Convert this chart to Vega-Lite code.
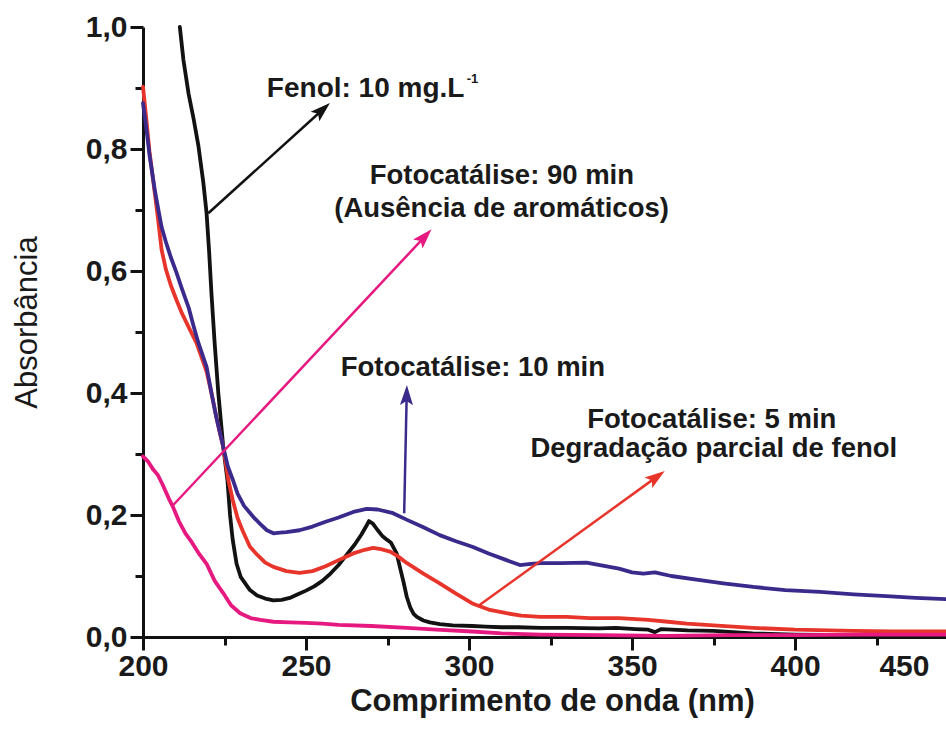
{
  "$schema": "https://vega.github.io/schema/vega-lite/v6.json",
  "width": 803,
  "height": 610,
  "autosize": {"type": "none"},
  "padding": {"left": 143, "top": 27, "right": 0, "bottom": 108},
  "background": "white",
  "config": {"view": {"stroke": null}, "font": "Liberation Sans"},
  "datasets": {
    "spectra": [
      {"series": "Fenol", "nm": 211.3, "A": 1.0},
      {"series": "Fenol", "nm": 212.4, "A": 0.946},
      {"series": "Fenol", "nm": 214, "A": 0.89},
      {"series": "Fenol", "nm": 215.5, "A": 0.85},
      {"series": "Fenol", "nm": 217, "A": 0.805},
      {"series": "Fenol", "nm": 218.5, "A": 0.745},
      {"series": "Fenol", "nm": 219.5, "A": 0.695},
      {"series": "Fenol", "nm": 220.3, "A": 0.63},
      {"series": "Fenol", "nm": 221, "A": 0.563},
      {"series": "Fenol", "nm": 222, "A": 0.48},
      {"series": "Fenol", "nm": 223.1, "A": 0.4},
      {"series": "Fenol", "nm": 224.6, "A": 0.312},
      {"series": "Fenol", "nm": 225.9, "A": 0.257},
      {"series": "Fenol", "nm": 226.7, "A": 0.2},
      {"series": "Fenol", "nm": 227.5, "A": 0.16},
      {"series": "Fenol", "nm": 228.7, "A": 0.12},
      {"series": "Fenol", "nm": 230, "A": 0.098},
      {"series": "Fenol", "nm": 232.8, "A": 0.077},
      {"series": "Fenol", "nm": 235, "A": 0.068},
      {"series": "Fenol", "nm": 237.5, "A": 0.063},
      {"series": "Fenol", "nm": 240, "A": 0.06},
      {"series": "Fenol", "nm": 242.5, "A": 0.061},
      {"series": "Fenol", "nm": 245, "A": 0.064},
      {"series": "Fenol", "nm": 247.5, "A": 0.07},
      {"series": "Fenol", "nm": 250, "A": 0.076},
      {"series": "Fenol", "nm": 252.5, "A": 0.083},
      {"series": "Fenol", "nm": 255, "A": 0.092},
      {"series": "Fenol", "nm": 257.5, "A": 0.104},
      {"series": "Fenol", "nm": 260, "A": 0.118},
      {"series": "Fenol", "nm": 262.5, "A": 0.135},
      {"series": "Fenol", "nm": 265, "A": 0.152},
      {"series": "Fenol", "nm": 267, "A": 0.168},
      {"series": "Fenol", "nm": 268.5, "A": 0.182},
      {"series": "Fenol", "nm": 269.3, "A": 0.19},
      {"series": "Fenol", "nm": 270.5, "A": 0.186},
      {"series": "Fenol", "nm": 272, "A": 0.175},
      {"series": "Fenol", "nm": 273.5, "A": 0.165},
      {"series": "Fenol", "nm": 274.7, "A": 0.16},
      {"series": "Fenol", "nm": 276, "A": 0.155},
      {"series": "Fenol", "nm": 277.8, "A": 0.137},
      {"series": "Fenol", "nm": 279, "A": 0.11},
      {"series": "Fenol", "nm": 280, "A": 0.088},
      {"series": "Fenol", "nm": 280.9, "A": 0.066},
      {"series": "Fenol", "nm": 282, "A": 0.048},
      {"series": "Fenol", "nm": 283, "A": 0.038},
      {"series": "Fenol", "nm": 284, "A": 0.033},
      {"series": "Fenol", "nm": 286, "A": 0.027},
      {"series": "Fenol", "nm": 288, "A": 0.024},
      {"series": "Fenol", "nm": 291, "A": 0.021},
      {"series": "Fenol", "nm": 295, "A": 0.019},
      {"series": "Fenol", "nm": 301, "A": 0.018},
      {"series": "Fenol", "nm": 305, "A": 0.017},
      {"series": "Fenol", "nm": 310, "A": 0.016},
      {"series": "Fenol", "nm": 315, "A": 0.016},
      {"series": "Fenol", "nm": 322, "A": 0.015},
      {"series": "Fenol", "nm": 330, "A": 0.015},
      {"series": "Fenol", "nm": 340, "A": 0.014},
      {"series": "Fenol", "nm": 345, "A": 0.015},
      {"series": "Fenol", "nm": 351, "A": 0.013},
      {"series": "Fenol", "nm": 355, "A": 0.012},
      {"series": "Fenol", "nm": 357, "A": 0.008},
      {"series": "Fenol", "nm": 359, "A": 0.013},
      {"series": "Fenol", "nm": 367, "A": 0.011},
      {"series": "Fenol", "nm": 375, "A": 0.01},
      {"series": "Fenol", "nm": 387, "A": 0.006},
      {"series": "Fenol", "nm": 400, "A": 0.004},
      {"series": "Fenol", "nm": 420, "A": 0.003},
      {"series": "Fenol", "nm": 446.3, "A": 0.003},

      {"series": "5 min", "nm": 200, "A": 0.902},
      {"series": "5 min", "nm": 201, "A": 0.85},
      {"series": "5 min", "nm": 202, "A": 0.795},
      {"series": "5 min", "nm": 203.2, "A": 0.745},
      {"series": "5 min", "nm": 204.5, "A": 0.69},
      {"series": "5 min", "nm": 205.7, "A": 0.635},
      {"series": "5 min", "nm": 207, "A": 0.603},
      {"series": "5 min", "nm": 208.5, "A": 0.577},
      {"series": "5 min", "nm": 210.3, "A": 0.552},
      {"series": "5 min", "nm": 212, "A": 0.53},
      {"series": "5 min", "nm": 214, "A": 0.508},
      {"series": "5 min", "nm": 216.4, "A": 0.482},
      {"series": "5 min", "nm": 218, "A": 0.458},
      {"series": "5 min", "nm": 219.5, "A": 0.435},
      {"series": "5 min", "nm": 221, "A": 0.4},
      {"series": "5 min", "nm": 222.5, "A": 0.36},
      {"series": "5 min", "nm": 224, "A": 0.325},
      {"series": "5 min", "nm": 224.6, "A": 0.312},
      {"series": "5 min", "nm": 226.2, "A": 0.257},
      {"series": "5 min", "nm": 227.5, "A": 0.225},
      {"series": "5 min", "nm": 229, "A": 0.195},
      {"series": "5 min", "nm": 230.5, "A": 0.175},
      {"series": "5 min", "nm": 232.8, "A": 0.148},
      {"series": "5 min", "nm": 235, "A": 0.135},
      {"series": "5 min", "nm": 237.5, "A": 0.122},
      {"series": "5 min", "nm": 240, "A": 0.115},
      {"series": "5 min", "nm": 244, "A": 0.108},
      {"series": "5 min", "nm": 248, "A": 0.105},
      {"series": "5 min", "nm": 252, "A": 0.108},
      {"series": "5 min", "nm": 256, "A": 0.116},
      {"series": "5 min", "nm": 260, "A": 0.126},
      {"series": "5 min", "nm": 264.5, "A": 0.137},
      {"series": "5 min", "nm": 268, "A": 0.143},
      {"series": "5 min", "nm": 270.6, "A": 0.146},
      {"series": "5 min", "nm": 273, "A": 0.144},
      {"series": "5 min", "nm": 275.8, "A": 0.14},
      {"series": "5 min", "nm": 278, "A": 0.133},
      {"series": "5 min", "nm": 281, "A": 0.121},
      {"series": "5 min", "nm": 286, "A": 0.104},
      {"series": "5 min", "nm": 291, "A": 0.088},
      {"series": "5 min", "nm": 296, "A": 0.071},
      {"series": "5 min", "nm": 301, "A": 0.055},
      {"series": "5 min", "nm": 306, "A": 0.045},
      {"series": "5 min", "nm": 311.5, "A": 0.039},
      {"series": "5 min", "nm": 316, "A": 0.035},
      {"series": "5 min", "nm": 322, "A": 0.033},
      {"series": "5 min", "nm": 330, "A": 0.033},
      {"series": "5 min", "nm": 337, "A": 0.031},
      {"series": "5 min", "nm": 346, "A": 0.031},
      {"series": "5 min", "nm": 355, "A": 0.028},
      {"series": "5 min", "nm": 361, "A": 0.025},
      {"series": "5 min", "nm": 366.8, "A": 0.022},
      {"series": "5 min", "nm": 375, "A": 0.019},
      {"series": "5 min", "nm": 387, "A": 0.015},
      {"series": "5 min", "nm": 400, "A": 0.012},
      {"series": "5 min", "nm": 417.8, "A": 0.01},
      {"series": "5 min", "nm": 430, "A": 0.009},
      {"series": "5 min", "nm": 446.3, "A": 0.009},

      {"series": "10 min", "nm": 200, "A": 0.875},
      {"series": "10 min", "nm": 201, "A": 0.835},
      {"series": "10 min", "nm": 202, "A": 0.79},
      {"series": "10 min", "nm": 203.7, "A": 0.73},
      {"series": "10 min", "nm": 205, "A": 0.692},
      {"series": "10 min", "nm": 205.7, "A": 0.672},
      {"series": "10 min", "nm": 207, "A": 0.648},
      {"series": "10 min", "nm": 208.5, "A": 0.623},
      {"series": "10 min", "nm": 210.3, "A": 0.597},
      {"series": "10 min", "nm": 212, "A": 0.57},
      {"series": "10 min", "nm": 214, "A": 0.54},
      {"series": "10 min", "nm": 215.5, "A": 0.51},
      {"series": "10 min", "nm": 217, "A": 0.482},
      {"series": "10 min", "nm": 219.5, "A": 0.443},
      {"series": "10 min", "nm": 221, "A": 0.4},
      {"series": "10 min", "nm": 222.5, "A": 0.36},
      {"series": "10 min", "nm": 224.6, "A": 0.312},
      {"series": "10 min", "nm": 226, "A": 0.28},
      {"series": "10 min", "nm": 227.6, "A": 0.257},
      {"series": "10 min", "nm": 229, "A": 0.235},
      {"series": "10 min", "nm": 231, "A": 0.215},
      {"series": "10 min", "nm": 233.8, "A": 0.197},
      {"series": "10 min", "nm": 236, "A": 0.185},
      {"series": "10 min", "nm": 238, "A": 0.175},
      {"series": "10 min", "nm": 240, "A": 0.17},
      {"series": "10 min", "nm": 242, "A": 0.171},
      {"series": "10 min", "nm": 244, "A": 0.172},
      {"series": "10 min", "nm": 248, "A": 0.175},
      {"series": "10 min", "nm": 252, "A": 0.181},
      {"series": "10 min", "nm": 256, "A": 0.189},
      {"series": "10 min", "nm": 260, "A": 0.196},
      {"series": "10 min", "nm": 264.5, "A": 0.205},
      {"series": "10 min", "nm": 268.6, "A": 0.21},
      {"series": "10 min", "nm": 272, "A": 0.209},
      {"series": "10 min", "nm": 276.7, "A": 0.203},
      {"series": "10 min", "nm": 281, "A": 0.192},
      {"series": "10 min", "nm": 286, "A": 0.18},
      {"series": "10 min", "nm": 291, "A": 0.167},
      {"series": "10 min", "nm": 296, "A": 0.157},
      {"series": "10 min", "nm": 301, "A": 0.148},
      {"series": "10 min", "nm": 306, "A": 0.137},
      {"series": "10 min", "nm": 311.5, "A": 0.126},
      {"series": "10 min", "nm": 315.6, "A": 0.118},
      {"series": "10 min", "nm": 319, "A": 0.12},
      {"series": "10 min", "nm": 322, "A": 0.121},
      {"series": "10 min", "nm": 328, "A": 0.121},
      {"series": "10 min", "nm": 336, "A": 0.122},
      {"series": "10 min", "nm": 341, "A": 0.117},
      {"series": "10 min", "nm": 346, "A": 0.112},
      {"series": "10 min", "nm": 350, "A": 0.106},
      {"series": "10 min", "nm": 353.5, "A": 0.104},
      {"series": "10 min", "nm": 357, "A": 0.106},
      {"series": "10 min", "nm": 362, "A": 0.1},
      {"series": "10 min", "nm": 369.8, "A": 0.094},
      {"series": "10 min", "nm": 378, "A": 0.088},
      {"series": "10 min", "nm": 387.2, "A": 0.082},
      {"series": "10 min", "nm": 397, "A": 0.077},
      {"series": "10 min", "nm": 407.7, "A": 0.074},
      {"series": "10 min", "nm": 418, "A": 0.07},
      {"series": "10 min", "nm": 428, "A": 0.067},
      {"series": "10 min", "nm": 437, "A": 0.064},
      {"series": "10 min", "nm": 446.3, "A": 0.062},

      {"series": "90 min", "nm": 200, "A": 0.296},
      {"series": "90 min", "nm": 201.5, "A": 0.288},
      {"series": "90 min", "nm": 203.2, "A": 0.274},
      {"series": "90 min", "nm": 204.5, "A": 0.266},
      {"series": "90 min", "nm": 206, "A": 0.25},
      {"series": "90 min", "nm": 208, "A": 0.226},
      {"series": "90 min", "nm": 209.3, "A": 0.212},
      {"series": "90 min", "nm": 211, "A": 0.19},
      {"series": "90 min", "nm": 213, "A": 0.17},
      {"series": "90 min", "nm": 215, "A": 0.155},
      {"series": "90 min", "nm": 217, "A": 0.138},
      {"series": "90 min", "nm": 219.5, "A": 0.12},
      {"series": "90 min", "nm": 222, "A": 0.092},
      {"series": "90 min", "nm": 224.6, "A": 0.072},
      {"series": "90 min", "nm": 227, "A": 0.052},
      {"series": "90 min", "nm": 229.8, "A": 0.039},
      {"series": "90 min", "nm": 233, "A": 0.031},
      {"series": "90 min", "nm": 236, "A": 0.028},
      {"series": "90 min", "nm": 240, "A": 0.025},
      {"series": "90 min", "nm": 245, "A": 0.024},
      {"series": "90 min", "nm": 250, "A": 0.023},
      {"series": "90 min", "nm": 255, "A": 0.022},
      {"series": "90 min", "nm": 260, "A": 0.02},
      {"series": "90 min", "nm": 270, "A": 0.018},
      {"series": "90 min", "nm": 281, "A": 0.015},
      {"series": "90 min", "nm": 290, "A": 0.012},
      {"series": "90 min", "nm": 301, "A": 0.009},
      {"series": "90 min", "nm": 310, "A": 0.006},
      {"series": "90 min", "nm": 322, "A": 0.004},
      {"series": "90 min", "nm": 340, "A": 0.003},
      {"series": "90 min", "nm": 360, "A": 0.002},
      {"series": "90 min", "nm": 380, "A": 0.003},
      {"series": "90 min", "nm": 400, "A": 0.003},
      {"series": "90 min", "nm": 420, "A": 0.004},
      {"series": "90 min", "nm": 446.3, "A": 0.004}
    ],
    "arrows": [
      {"series": "Fenol", "nm": 220.02, "A": 0.6946, "nm2": 255.07, "A2": 0.8644},
      {"series": "90 min", "nm": 209.29, "A": 0.2164, "nm2": 286.43, "A2": 0.6564},
      {"series": "10 min", "nm": 280.11, "A": 0.2028, "nm2": 280.88, "A2": 0.3967},
      {"series": "5 min", "nm": 302.8, "A": 0.0508, "nm2": 357.56, "A2": 0.2625}
    ],
    "heads": [
      {"series": "Fenol", "nm": 257.33, "A": 0.8754},
      {"series": "90 min", "nm": 288.51, "A": 0.6684},
      {"series": "10 min", "nm": 280.94, "A": 0.4131},
      {"series": "5 min", "nm": 360.04, "A": 0.2721}
    ],
    "notes": [
      {"nm": 310.07, "A": 0.742, "text": "Fotocatálise: 90 min"},
      {"nm": 309.98, "A": 0.689, "text": "(Ausência de aromáticos)"},
      {"nm": 301.18, "A": 0.428, "text": "Fotocatálise: 10 min"},
      {"nm": 374.46, "A": 0.3425, "text": "Fotocatálise: 5 min"},
      {"nm": 375.07, "A": 0.2956, "text": "Degradação parcial de fenol"}
    ],
    "fenol": [
      {"nm": 237.99, "A": 0.8852, "text": "Fenol: 10 mg.L"}
    ],
    "sup": [
      {"nm": 299.3, "A": 0.9074, "text": "-1"}
    ]
  },
  "encoding": {
    "x": {
      "field": "nm",
      "type": "quantitative",
      "scale": {"domain": [200, 446.3], "nice": false, "zero": false},
      "axis": {
        "values": [200, 225, 250, 275, 300, 325, 350, 375, 400, 425, 433.4],
        "labelExpr": "datum.value > 430 ? '450' : (datum.value % 50 == 0 ? format(datum.value, 'd') : '')",
        "tickSize": {"condition": {"test": "datum.value % 50 == 0 || datum.value > 430", "value": 13}, "value": 8},
        "tickOpacity": {"condition": {"test": "datum.value > 430", "value": 0}, "value": 1},
        "title": "Comprimento de onda (nm)",
        "titleFont": "Liberation Sans",
        "titleFontSize": 31,
        "titleFontWeight": "bold",
        "titleColor": "#1a1a1a",
        "titleX": 409,
        "titleY": 73,
        "titleAlign": "center",
        "titleBaseline": "alphabetic",
        "labelFont": "Liberation Sans",
        "labelFontSize": 30,
        "labelFontWeight": "bold",
        "labelColor": "#1a1a1a",
        "labelPadding": 1,
        "labelFlush": false,
        "labelOverlap": false,
        "labelBound": false,
        "domainWidth": 3,
        "domainColor": "#111111",
        "tickWidth": 3,
        "tickColor": "#111111",
        "grid": false
      }
    },
    "y": {
      "field": "A",
      "type": "quantitative",
      "scale": {"domain": [0, 1], "nice": false, "zero": false},
      "axis": {
        "values": [0, 0.1, 0.2, 0.3, 0.4, 0.5, 0.6, 0.7, 0.8, 0.9, 1.0],
        "labelExpr": "round(datum.value * 10) % 2 == 0 ? replace(format(datum.value, '.1f'), '.', ',') : ''",
        "tickSize": {"condition": {"test": "round(datum.value * 10) % 2 == 0", "value": 13}, "value": 8},
        "title": "Absorbância",
        "titleFont": "Liberation Sans",
        "titleFontSize": 31,
        "titleFontWeight": "normal",
        "titleColor": "#1a1a1a",
        "titleX": -116,
        "titleY": 295,
        "titleAngle": -90,
        "titleAlign": "center",
        "titleBaseline": "middle",
        "labelFont": "Liberation Sans",
        "labelFontSize": 30,
        "labelFontWeight": "bold",
        "labelColor": "#1a1a1a",
        "labelPadding": 3,
        "labelFlush": false,
        "labelOverlap": false,
        "labelBound": false,
        "domainWidth": 3,
        "domainColor": "#111111",
        "tickWidth": 3,
        "tickColor": "#111111",
        "grid": false
      }
    }
  },
  "layer": [
    {
      "data": {"name": "spectra"},
      "mark": {"type": "line", "strokeWidth": 3.8, "strokeJoin": "round", "strokeCap": "round"},
      "encoding": {
        "color": {
          "field": "series",
          "type": "nominal",
          "scale": {"domain": ["Fenol", "5 min", "10 min", "90 min"], "range": ["#121212", "#e8352b", "#3b2a8c", "#e5197f"]},
          "legend": null
        }
      }
    },
    {
      "data": {"name": "arrows"},
      "mark": {"type": "rule", "strokeWidth": 2.5},
      "encoding": {
        "x2": {"field": "nm2"},
        "y2": {"field": "A2"},
        "color": {"field": "series", "type": "nominal", "legend": null}
      }
    },
    {
      "data": {"name": "heads"},
      "transform": [{"filter": "datum.series == 'Fenol'"}],
      "mark": {"type": "point", "shape": "M0,0L0.55,1.7L0,1.35L-0.55,1.7Z", "filled": true, "opacity": 1, "size": 560, "angle": 47.8, "strokeWidth": 0},
      "encoding": {"color": {"field": "series", "type": "nominal", "legend": null}}
    },
    {
      "data": {"name": "heads"},
      "transform": [{"filter": "datum.series == '90 min'"}],
      "mark": {"type": "point", "shape": "M0,0L0.55,1.7L0,1.35L-0.55,1.7Z", "filled": true, "opacity": 1, "size": 560, "angle": 43.1, "strokeWidth": 0},
      "encoding": {"color": {"field": "series", "type": "nominal", "legend": null}}
    },
    {
      "data": {"name": "heads"},
      "transform": [{"filter": "datum.series == '10 min'"}],
      "mark": {"type": "point", "shape": "M0,0L0.55,1.7L0,1.35L-0.55,1.7Z", "filled": true, "opacity": 1, "size": 560, "angle": 1.2, "strokeWidth": 0},
      "encoding": {"color": {"field": "series", "type": "nominal", "legend": null}}
    },
    {
      "data": {"name": "heads"},
      "transform": [{"filter": "datum.series == '5 min'"}],
      "mark": {"type": "point", "shape": "M0,0L0.55,1.7L0,1.35L-0.55,1.7Z", "filled": true, "opacity": 1, "size": 560, "angle": 54.1, "strokeWidth": 0},
      "encoding": {"color": {"field": "series", "type": "nominal", "legend": null}}
    },
    {
      "data": {"name": "notes"},
      "mark": {"type": "text", "font": "Liberation Sans", "fontSize": 27.5, "fontWeight": "bold", "align": "center", "baseline": "alphabetic", "color": "#1a1a1a"},
      "encoding": {"text": {"field": "text"}}
    },
    {
      "data": {"name": "fenol"},
      "mark": {"type": "text", "font": "Liberation Sans", "fontSize": 28, "fontWeight": "bold", "align": "left", "baseline": "alphabetic", "color": "#1a1a1a"},
      "encoding": {"text": {"field": "text"}}
    },
    {
      "data": {"name": "sup"},
      "mark": {"type": "text", "font": "Liberation Sans", "fontSize": 13, "fontWeight": "bold", "align": "left", "baseline": "alphabetic", "color": "#1a1a1a"},
      "encoding": {"text": {"field": "text"}}
    }
  ]
}
